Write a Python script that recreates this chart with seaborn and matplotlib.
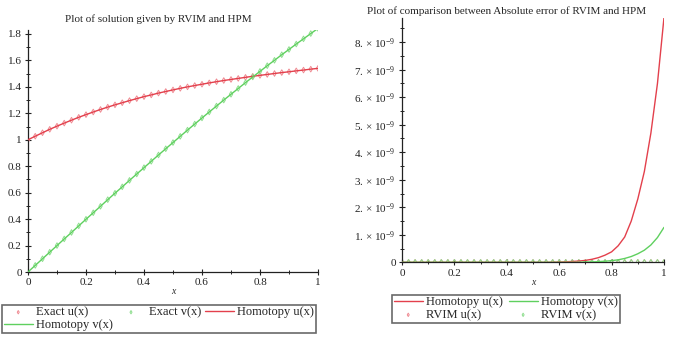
"""Two-panel Maple-style figure: RVIM / HPM solutions and absolute errors."""
import numpy as np
import pandas as pd
import matplotlib
matplotlib.use('Agg')
import matplotlib.pyplot as plt
from matplotlib.ticker import MultipleLocator, FixedLocator, FuncFormatter
import seaborn as sns

sns.set_theme(style='white')
plt.rcParams.update({
    'font.family': ['Liberation Serif', 'DejaVu Serif'],
    'mathtext.default': 'regular',
    'axes.unicode_minus': False,
})

# ---- data ----
x = [0.000, 0.025, 0.050, 0.075, 0.100, 0.125, 0.150, 0.175, 0.200, 0.225,
     0.250, 0.275, 0.300, 0.325, 0.350, 0.375, 0.400, 0.425, 0.450, 0.475,
     0.500, 0.525, 0.550, 0.575, 0.600, 0.625, 0.650, 0.675, 0.700, 0.725,
     0.750, 0.775, 0.800, 0.825, 0.850, 0.875, 0.900, 0.925, 0.950, 0.975,
     1.000]
u_sol = [1.000, 1.027, 1.053, 1.079, 1.103, 1.126, 1.148, 1.170, 1.190, 1.210,
         1.229, 1.247, 1.264, 1.280, 1.296, 1.311, 1.326, 1.339, 1.353, 1.365,
         1.377, 1.389, 1.400, 1.410, 1.420, 1.430, 1.439, 1.448, 1.456, 1.464,
         1.472, 1.480, 1.487, 1.494, 1.501, 1.508, 1.514, 1.521, 1.527, 1.534,
         1.540]
v_sol = [0.000, 0.050, 0.100, 0.150, 0.200, 0.250, 0.299, 0.349, 0.399, 0.448,
         0.497, 0.547, 0.596, 0.644, 0.693, 0.741, 0.789, 0.837, 0.885, 0.932,
         0.979, 1.026, 1.073, 1.119, 1.165, 1.210, 1.255, 1.300, 1.344, 1.388,
         1.432, 1.475, 1.517, 1.560, 1.601, 1.643, 1.683, 1.724, 1.763, 1.803,
         1.842]
# absolute errors, units of 1e-9
err_hpm_u = [0, 0, 0, 0, 0, 0, 0, 0, 0, 0,
             0, 0, 0, 0, 0, 0, 0, 0, 0, 0,
             0, 0, 0, 0.005, 0.01, 0.02, 0.03, 0.045, 0.07, 0.11,
             0.17, 0.26, 0.38, 0.6, 0.92, 1.5, 2.3, 3.3, 4.7, 6.5,
             8.9]
err_hpm_v = [0, 0, 0, 0, 0, 0, 0, 0, 0, 0,
             0, 0, 0, 0, 0, 0, 0, 0, 0, 0,
             0, 0, 0, 0, 0, 0, 0, 0, 0.01, 0.015,
             0.025, 0.04, 0.06, 0.09, 0.14, 0.21, 0.31, 0.44, 0.63, 0.9,
             1.27]
err_rvim_u = [0.0] * 41
err_rvim_v = [0.0] * 41
err_ticks = [0, 1, 2, 3, 4, 5, 6, 7, 8]

RED = '#e3404c'
GREEN = '#5fd05f'
RED_M = '#ef8a92'
GREEN_M = '#8ede8e'

sol = pd.DataFrame({'x': x, 'u': u_sol, 'v': v_sol})
err = pd.DataFrame({'x': x,
                    'hu': np.array(err_hpm_u) * 1e-9,
                    'hv': np.array(err_hpm_v) * 1e-9,
                    'ru': np.array(err_rvim_u) * 1e-9,
                    'rv': np.array(err_rvim_v) * 1e-9})

fig = plt.figure(figsize=(6.76, 3.4), dpi=100)
ax1 = fig.add_axes([28 / 676, 1 - 272 / 340, 290 / 676, 242 / 340])
ax2 = fig.add_axes([402 / 676, 1 - 262.3 / 340, 262 / 676, 244.3 / 340])


def maple_axes(ax):
    for s in ['top', 'right']:
        ax.spines[s].set_visible(False)
    for s in ['left', 'bottom']:
        ax.spines[s].set_color('#222222')
        ax.spines[s].set_linewidth(0.9)
    ax.tick_params(which='major', direction='inout', length=5, width=0.8,
                   colors='#222222', labelsize=8, pad=2,
                   bottom=True, left=True)
    ax.tick_params(which='minor', direction='inout', length=3, width=0.7,
                   colors='#222222', bottom=True, left=True)
    ax.grid(False)
    ax.set_facecolor('white')


def legend_below(handles, labels, ncol, box):
    leg = fig.legend(handles, labels, loc='lower left', ncol=ncol,
                     mode='expand', bbox_to_anchor=box,
                     fontsize=9, frameon=True, fancybox=False,
                     handlelength=2.3, handletextpad=0.3, columnspacing=0.4,
                     borderpad=0.15, labelspacing=0.05, borderaxespad=0,
                     markerscale=0.6)
    leg.get_frame().set_edgecolor('#444444')
    leg.get_frame().set_linewidth(1.2)
    return leg


# ---- left: solutions ----
sns.scatterplot(data=sol, x='x', y='u', ax=ax1, marker='d', s=8,
                facecolor='none', edgecolor=RED_M, linewidth=0.7,
                label='Exact u(x)', zorder=2)
sns.scatterplot(data=sol, x='x', y='v', ax=ax1, marker='d', s=8,
                facecolor='none', edgecolor=GREEN_M, linewidth=0.7,
                label='Exact v(x)', zorder=2)
sns.lineplot(data=sol, x='x', y='u', ax=ax1, color=RED, lw=1.0,
             label='Homotopy u(x)', zorder=3)
sns.lineplot(data=sol, x='x', y='v', ax=ax1, color=GREEN, lw=1.0,
             label='Homotopy v(x)', zorder=3)
ax1.set_xlim(0, 1)
ax1.set_ylim(0, 1.83)
ax1.xaxis.set_major_locator(MultipleLocator(0.2))
ax1.xaxis.set_minor_locator(MultipleLocator(0.1))
ax1.yaxis.set_major_locator(MultipleLocator(0.2))
ax1.yaxis.set_minor_locator(MultipleLocator(0.1))
ax1.xaxis.set_major_formatter(FuncFormatter(lambda v, p: f'{v:g}'))
ax1.yaxis.set_major_formatter(FuncFormatter(lambda v, p: f'{v:g}'))
maple_axes(ax1)
ax1.set_xlabel('x', style='italic', fontsize=7, labelpad=0)
ax1.set_ylabel('')
ax1.set_title('Plot of solution given by RVIM and HPM', fontsize=8, pad=6,
              x=0.45)

h1, l1 = ax1.get_legend_handles_labels()
ax1.get_legend().remove()
order = [0, 3, 1, 2]
legend_below([h1[i] for i in order], [l1[i] for i in order], 3,
             (2 / 676, 1 - 333 / 340, 314 / 676, 31 / 340))

# ---- right: absolute errors ----
sns.lineplot(data=err, x='x', y='hu', ax=ax2, color=RED, lw=1.0,
             label='Homotopy u(x)', zorder=3)
sns.scatterplot(data=err, x='x', y='ru', ax=ax2, marker='d', s=8,
                facecolor='none', edgecolor=RED_M, linewidth=0.7,
                label='RVIM u(x)', zorder=2)
sns.lineplot(data=err, x='x', y='hv', ax=ax2, color=GREEN, lw=1.0,
             label='Homotopy v(x)', zorder=3)
sns.scatterplot(data=err, x='x', y='rv', ax=ax2, marker='d', s=8,
                facecolor='none', edgecolor=GREEN_M, linewidth=0.7,
                label='RVIM v(x)', zorder=2)
ax2.set_xlim(0, 1)
ax2.set_ylim(0, 8.88e-9)
ax2.xaxis.set_major_locator(MultipleLocator(0.2))
ax2.xaxis.set_minor_locator(MultipleLocator(0.1))
ax2.yaxis.set_major_locator(FixedLocator([k * 1e-9 for k in err_ticks]))
ax2.yaxis.set_minor_locator(
    FixedLocator([(k + 0.5) * 1e-9 for k in err_ticks]))
ax2.xaxis.set_major_formatter(FuncFormatter(lambda v, p: f'{v:g}'))


def sci_fmt(v, p):
    k = int(round(v * 1e9))
    return '0' if k == 0 else f'{k}. \u00d7 10$^{{-9}}$'


ax2.yaxis.set_major_formatter(FuncFormatter(sci_fmt))
maple_axes(ax2)
ax2.set_xlabel('x', style='italic', fontsize=7, labelpad=0)
ax2.set_ylabel('')
ax2.set_title('Plot of comparison between Absolute error of RVIM and HPM',
              fontsize=8, pad=3, x=0.40)

h2, l2 = ax2.get_legend_handles_labels()
ax2.get_legend().remove()
legend_below(h2, l2, 2, (392 / 676, 1 - 323 / 340, 228 / 676, 31 / 340))

fig.savefig('out.png', dpi=100)
plt.close(fig)
